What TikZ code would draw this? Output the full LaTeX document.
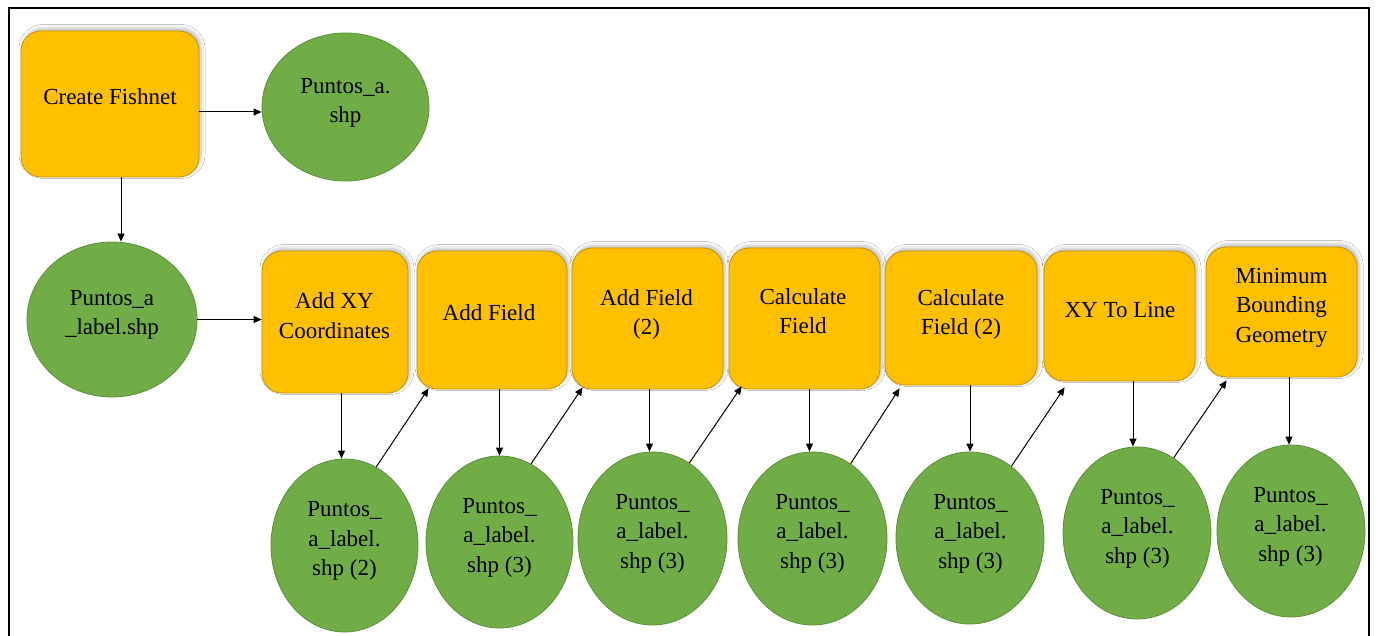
\documentclass[tikz,border=0pt]{standalone}
\usepackage{fontspec}
\setmainfont{LiberationSerif}[Extension=.ttf, UprightFont=*-Regular, BoldFont=*-Bold, ItalicFont=*-Italic, BoldItalicFont=*-BoldItalic]
\usetikzlibrary{arrows.meta,shapes.geometric,shadows.blur}
\definecolor{boxfill}{HTML}{FFC000}
\definecolor{boxline}{HTML}{C49400}
\definecolor{ellfill}{HTML}{70AD47}
\definecolor{ellline}{HTML}{5A8F38}
\tikzset{
  proc/.style={draw=boxline, line width=0.8pt, fill=boxfill, rounded corners=20pt, inner sep=0pt,
    blur shadow={shadow xshift=2pt, shadow yshift=2.5pt, shadow blur radius=4pt, shadow opacity=28}},
  data/.style={ellipse, draw=ellline, line width=0.8pt, fill=ellfill, inner sep=0pt},
  lbl/.style={align=center, font=\fontsize{23}{29.5}\selectfont, inner sep=0pt},
  arr/.style={-{Triangle[length=8pt,width=7pt]}, line width=1pt, black},
  frame/.style={draw=black, line width=2pt}
}
\begin{document}
\begin{tikzpicture}[x=1pt,y=-1pt]
\useasboundingbox (0,0) rectangle (1379,636);
\fill[white] (0,0) rectangle (1379,636);
\begin{scope}
  \clip (0,0) rectangle (1379,636);
  \draw[frame] (9,8) rectangle (1369,700);
\end{scope}

% process boxes
\node[proc, minimum width=178pt, minimum height=146pt] (fish) at (110,104) {};
\node[proc, minimum width=146pt, minimum height=142pt] (b1) at (335,322) {};
\node[proc, minimum width=150pt, minimum height=138pt] (b2) at (492,320) {};
\node[proc, minimum width=151pt, minimum height=141pt] (b3) at (647.5,318.5) {};
\node[proc, minimum width=151pt, minimum height=141pt] (b4) at (804.5,318.5) {};
\node[proc, minimum width=152pt, minimum height=134pt] (b5) at (961,318) {};
\node[proc, minimum width=151pt, minimum height=130pt] (b6) at (1119.5,316) {};
\node[proc, minimum width=151pt, minimum height=130pt] (b7) at (1281.5,312) {};

% data ellipses
\node[data, minimum width=167pt, minimum height=148pt] (pa) at (345.5,107) {};
\node[data, minimum width=170pt, minimum height=155pt] (pal) at (112,319.5) {};
\node[data, minimum width=147pt, minimum height=173pt] (e1) at (344.5,545.5) {};
\node[data, minimum width=147pt, minimum height=172pt] (e2) at (499.5,542) {};
\node[data, minimum width=149pt, minimum height=173pt] (e3) at (652.5,538.5) {};
\node[data, minimum width=149pt, minimum height=173pt] (e4) at (812.5,538.5) {};
\node[data, minimum width=148pt, minimum height=172pt] (e5) at (970,538) {};
\node[data, minimum width=148pt, minimum height=172pt] (e6) at (1137,533) {};
\node[data, minimum width=148pt, minimum height=172pt] (e7) at (1291,531) {};

% labels
\node[lbl] (tfish) at (110,97) {Create Fishnet};
\node[lbl] (tpa) at (345.5,103) {Puntos\_a.\\shp};
\node[lbl] (tpal) at (112,315) {Puntos\_a\\\_label.shp};
\node[lbl] (tb1) at (334.5,315.5) {Add XY\\Coordinates};
\node[lbl] (tb2) at (489,313) {Add Field};
\node[lbl] (tb3) at (646.5,314.5) {Add Field\\(2)};
\node[lbl] (tb4) at (803,311) {Calculate\\Field};
\node[lbl] (tb5) at (961,314.5) {Calculate\\Field (2)};
\node[lbl] (tb6) at (1120,310) {XY To Line};
\node[lbl] (tb7) at (1281.5,307.5) {Minimum\\Bounding\\Geometry};
\node[lbl] (te1) at (344.5,541) {Puntos\_\\a\_label.\\shp (2)};
\node[lbl] (te2) at (499.5,537.5) {Puntos\_\\a\_label.\\shp (3)};
\node[lbl] (te3) at (652.5,533.5) {Puntos\_\\a\_label.\\shp (3)};
\node[lbl] (te4) at (812.5,533.5) {Puntos\_\\a\_label.\\shp (3)};
\node[lbl] (te5) at (970.5,533.5) {Puntos\_\\a\_label.\\shp (3)};
\node[lbl] (te6) at (1137.5,528.5) {Puntos\_\\a\_label.\\shp (3)};
\node[lbl] (te7) at (1290.5,526.5) {Puntos\_\\a\_label.\\shp (3)};

% connectors
\draw[arr] ([yshift=-8pt]fish.east) -- ([yshift=-8pt]fish.east -| pa.west);
\draw[arr] ([xshift=11pt]fish.south) -- ([xshift=11pt]fish.south |- pal.north);
\draw[arr] (pal.east) -- (pal.east -| b1.west);

\draw[arr] ([xshift=-3pt]b1.south -| e1.north) -- ([xshift=-3pt]e1.north);
\draw[arr] (b2.south -| e2.north) -- (e2.north);
\draw[arr] ([xshift=-3pt]b3.south -| e3.north) -- ([xshift=-3pt]e3.north);
\draw[arr] ([xshift=-3pt]b4.south -| e4.north) -- ([xshift=-3pt]e4.north);
\draw[arr] (b5.south -| e5.north) -- (e5.north);
\draw[arr] ([xshift=-4pt]b6.south -| e6.north) -- ([xshift=-4pt]e6.north);
\draw[arr] ([xshift=-2pt]b7.south -| e7.north) -- ([xshift=-2pt]e7.north);

\draw[arr] (e1.68) -- ([xshift=12pt,yshift=1pt]b2.south west);
\draw[arr] (e2.68) -- ([xshift=11pt,yshift=2pt]b3.south west);
\draw[arr] (e3.64) -- ([xshift=13pt,yshift=3pt]b4.south west);
\draw[arr] (e4.63) -- ([xshift=15pt,yshift=-3pt]b5.south west);
\draw[arr] (e5.60) -- ([xshift=21pt,yshift=-6pt]b6.south west);
\draw[arr] (e6.64) -- ([xshift=21pt,yshift=-3pt]b7.south west);
\end{tikzpicture}
\end{document}
